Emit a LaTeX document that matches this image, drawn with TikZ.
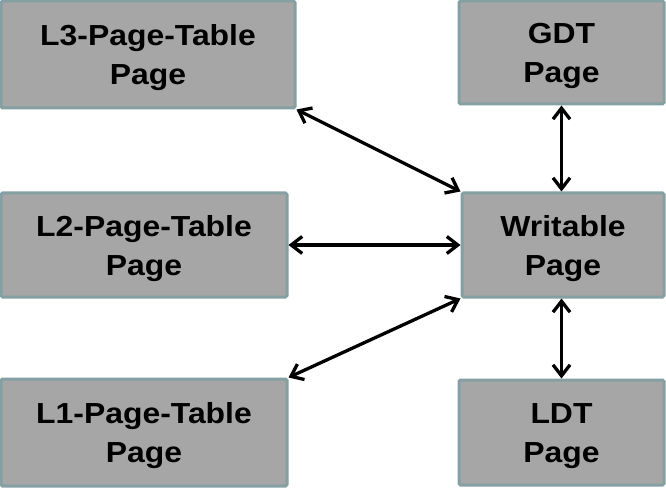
\documentclass[tikz,border=0pt]{standalone}
\usepackage{fontspec}
\setmainfont[FakeStretch=1.1]{Liberation Sans}
\usetikzlibrary{arrows.meta}
\definecolor{boxfill}{HTML}{A6A6A6}
\definecolor{boxline}{HTML}{84A0A2}
\begin{document}
\begin{tikzpicture}[x=1pt,y=-1pt,
  pagebox/.style={draw=boxline,line width=3pt,fill=boxfill,rounded corners=1.5pt,inner sep=0pt},
  boxtext/.style={font=\bfseries\fontsize{29}{39}\selectfont,align=center,inner sep=0pt,yshift=-3.5pt},
  link/.style={line width=3.3pt,{Straight Barb[length=11pt,width=17pt]}-{Straight Barb[length=11pt,width=17pt]}}]
\useasboundingbox (0,0) rectangle (666,494);
\node[pagebox,minimum width=294pt,minimum height=107pt] (l3) at (148,54.5) {};
\node[pagebox,minimum width=286pt,minimum height=104pt] (l2) at (144,245) {};
\node[pagebox,minimum width=286pt,minimum height=107pt] (l1) at (144,432.5) {};
\node[pagebox,minimum width=205pt,minimum height=103pt] (gdt) at (561.5,52.5) {};
\node[pagebox,minimum width=202pt,minimum height=104pt] (wp) at (563,245) {};
\node[pagebox,minimum width=205pt,minimum height=105pt] (ldt) at (561.5,432.5) {};
\node[boxtext] (l3t) at (l3.center) {L3-Page-Table\\Page};
\node[boxtext] (l2t) at (l2.center) {L2-Page-Table\\Page};
\node[boxtext] (l1t) at (l1.center) {L1-Page-Table\\Page};
\node[boxtext] (gdtt) at (gdt.center) {GDT\\Page};
\node[boxtext] (wpt) at (wp.center) {Writable\\Page};
\node[boxtext] (ldtt) at (ldt.center) {LDT\\Page};
\draw[link] (l3.south east) -- (wp.north west);
\draw[link] (l2.east) -- (wp.west);
\draw[link] (l1.north east) -- (wp.south west);
\draw[link] (gdt.south) -- (gdt.south |- wp.north);
\draw[link] (ldt.north) -- (ldt.north |- wp.south);
\end{tikzpicture}
\end{document}
